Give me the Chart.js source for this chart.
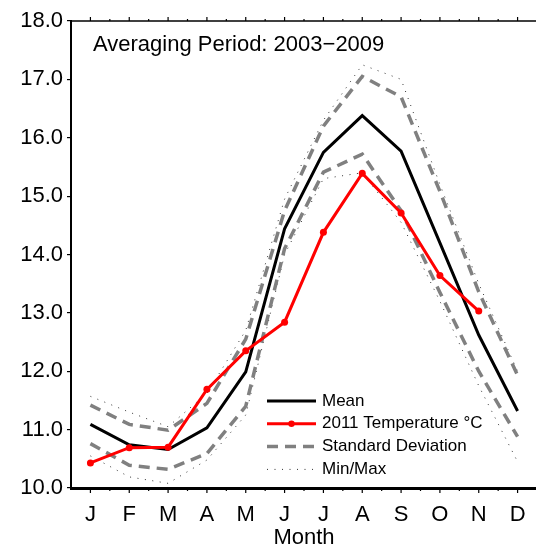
<!DOCTYPE html>
<html>
<head>
<meta charset="utf-8">
<script src="https://cdn.jsdelivr.net/npm/chart.js@4/dist/chart.umd.min.js"></script>
<style>
  html, body { margin: 0; padding: 0; background: #fff; overflow: hidden; }
  #wrap { width: 536px; height: 550px; overflow: hidden; }
</style>
</head>
<body>
<div id="wrap"><canvas id="chart" width="560" height="550"></canvas></div>
<script>
const months = ["J", "F", "M", "A", "M", "J", "J", "A", "S", "O", "N", "D"];
const yTicks = [10, 11, 12, 13, 14, 15, 16, 17, 18];

const meanTemp = [11.09, 10.74, 10.66, 11.03, 11.99, 14.44, 15.75, 16.38, 15.77, 14.2, 12.62, 11.32];
const temp2011 = [10.43, 10.69, 10.70, 11.69, 12.35, 12.84, 14.38, 15.39, 14.71, 13.64, 13.03];
const stdUpper = [11.42, 11.09, 10.99, 11.45, 12.55, 14.75, 16.2, 17.05, 16.7, 15.08, 13.36, 11.93];
const stdLower = [10.76, 10.39, 10.32, 10.59, 11.4, 14.1, 15.41, 15.72, 14.75, 13.35, 12.0, 10.88];
const maxTemp = [11.57, 11.30, 11.05, 11.62, 12.7, 14.95, 16.3, 17.25, 17.0, 15.2, 13.5, 12.0];
const minTemp = [10.55, 10.19, 10.08, 10.48, 11.25, 14.0, 15.3, 15.4, 14.55, 13.2, 11.75, 10.45];

const FONT = "'Liberation Sans', Arial, sans-serif";

// legend entries drawn inside the plot (lower bounds share the upper entry)
const legendItems = [
  { text: "Mean", color: "#000", width: 3, dash: [] },
  { text: "2011 Temperature °C", color: "#ff0000", width: 3, dash: [], dot: true },
  { text: "Standard Deviation", color: "#808080", width: 3.5, dash: [11, 7] },
  { text: "Min/Max", color: "#333", width: 1, dash: [1, 6.5] }
];

const framePlugin = {
  id: "frame",
  afterDraw(chart) {
    const ctx = chart.ctx;
    const area = chart.chartArea;
    const x = chart.scales.x;
    ctx.save();

    // top axis line
    ctx.strokeStyle = "#000";
    ctx.lineWidth = 1.5;
    ctx.beginPath();
    ctx.moveTo(area.left, area.top);
    ctx.lineTo(chart.width, area.top);
    ctx.stroke();

    // month ticks and half-month ticks, top and bottom
    ctx.lineWidth = 1.2;
    for (let i = 0; i < months.length; i++) {
      const px = x.getPixelForValue(i);
      const half = px + (x.getPixelForValue(1) - x.getPixelForValue(0)) / 2;
      ctx.beginPath();
      ctx.moveTo(px, area.bottom); ctx.lineTo(px, area.bottom + 5);
      ctx.moveTo(px, area.top); ctx.lineTo(px, area.top - 4);
      ctx.moveTo(half, area.bottom); ctx.lineTo(half, area.bottom + 3);
      ctx.moveTo(half, area.top); ctx.lineTo(half, area.top - 2);
      ctx.stroke();
    }

    // averaging period note
    ctx.fillStyle = "#000";
    ctx.font = "22px " + FONT;
    ctx.textBaseline = "middle";
    ctx.textAlign = "left";
    ctx.fillText("Averaging Period: 2003\u22122009", 93, 45);

    // legend
    ctx.font = "17px " + FONT;
    legendItems.forEach((item, i) => {
      const y = 401 + i * 22.8;
      ctx.strokeStyle = item.color;
      ctx.lineWidth = item.width;
      ctx.setLineDash(item.dash);
      ctx.beginPath();
      ctx.moveTo(267, y);
      ctx.lineTo(316, y);
      ctx.stroke();
      ctx.setLineDash([]);
      if (item.dot) {
        ctx.fillStyle = item.color;
        ctx.beginPath();
        ctx.arc(291.5, y, 3.2, 0, Math.PI * 2);
        ctx.fill();
      }
      ctx.fillStyle = "#000";
      ctx.fillText(item.text, 322, y);
    });
    ctx.restore();
  }
};

function line(data, color, width, dash, order) {
  return {
    data: data,
    borderColor: color,
    backgroundColor: color,
    borderWidth: width,
    borderDash: dash,
    pointRadius: 0,
    fill: false,
    tension: 0,
    order: order
  };
}

new Chart(document.getElementById("chart"), {
  type: "line",
  data: {
    labels: months,
    datasets: [
      line(meanTemp, "#000", 3, [], 2),
      Object.assign(line(temp2011, "#ff0000", 3, [], 1), { pointRadius: 3.5, pointBackgroundColor: "#ff0000", pointBorderWidth: 0 }),
      line(stdUpper, "#808080", 3.5, [11, 7], 3),
      line(stdLower, "#808080", 3.5, [11, 7], 3),
      line(maxTemp, "#333", 1, [1, 6.5], 4),
      line(minTemp, "#333", 1, [1, 6.5], 4)
    ]
  },
  options: {
    responsive: false,
    animation: false,
    layout: { padding: { top: 21, right: 23, left: 0, bottom: 0 } },
    plugins: { legend: { display: false }, tooltip: { enabled: false } },
    scales: {
      x: {
        offset: true,
        grid: { display: false },
        border: { display: true, color: "#000", width: 3 },
        ticks: { color: "#000", font: { family: FONT, size: 22 }, padding: 6, maxRotation: 0, autoSkip: false },
        title: { display: true, text: "Month", color: "#000", font: { family: FONT, size: 22 }, padding: { top: 0, bottom: -1 } },
        afterFit(scale) { scale.height = 62; }
      },
      y: {
        min: 10,
        max: 18,
        afterBuildTicks(scale) { scale.ticks = yTicks.map(v => ({ value: v })); },
        grid: { display: true, drawOnChartArea: false, drawTicks: true, tickLength: 4, color: "#000", lineWidth: 1.2 },
        border: { display: true, color: "#000", width: 2 },
        ticks: { color: "#000", font: { family: FONT, size: 22 }, padding: 4, callback: v => v.toFixed(1) },
        afterFit(scale) { scale.width = 71; }
      }
    }
  },
  plugins: [framePlugin]
});
</script>
</body>
</html>
